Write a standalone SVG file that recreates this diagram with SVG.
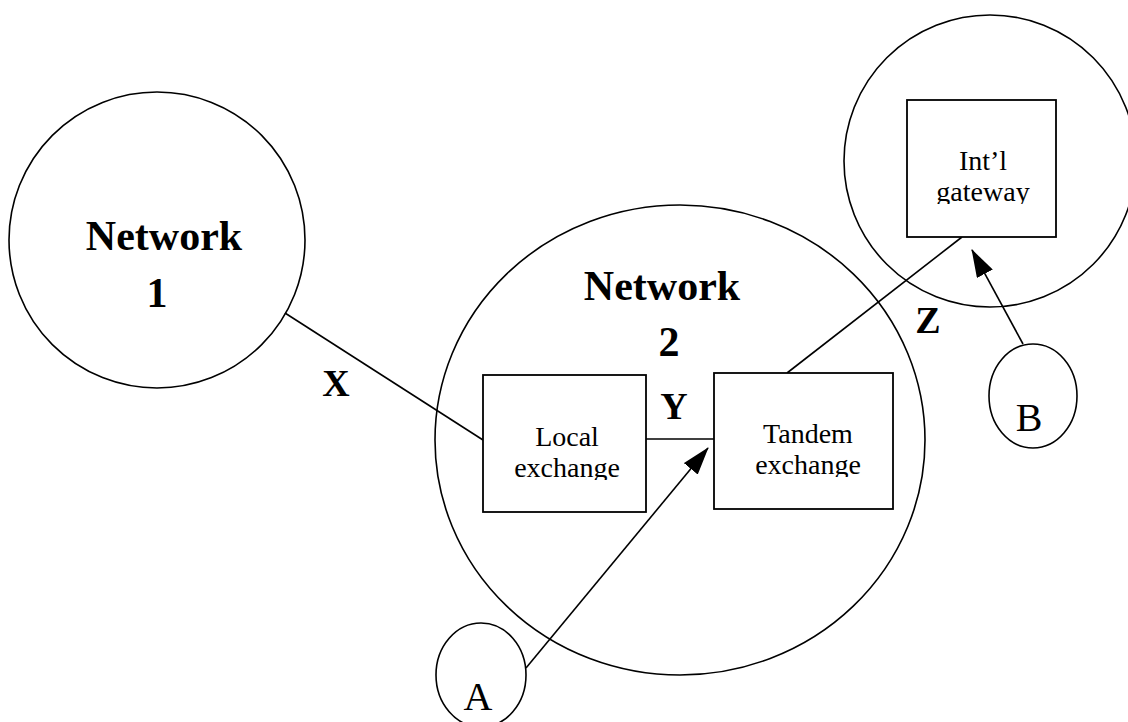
<svg xmlns="http://www.w3.org/2000/svg" width="1128" height="722" viewBox="0 0 1128 722">
<style>
.sh{fill:none;stroke:#000;stroke-width:1.6}
.bx{fill:#fff;stroke:#000;stroke-width:1.8}
.ln{fill:none;stroke:#000;stroke-width:1.6}
.big{font-family:"Liberation Serif","Times New Roman",serif;font-weight:bold;font-size:42px;fill:#000;text-anchor:middle}
.lbl{font-family:"Liberation Serif","Times New Roman",serif;font-weight:bold;font-size:38px;fill:#000;text-anchor:middle}
.sm{font-family:"Liberation Serif","Times New Roman",serif;font-size:28px;fill:#000;text-anchor:middle}
.let{font-family:"Liberation Serif","Times New Roman",serif;font-size:40px;fill:#000;text-anchor:middle}
</style>
<defs>
<marker id="ah" markerWidth="28" markerHeight="18" refX="27" refY="9" orient="auto" markerUnits="userSpaceOnUse">
<path d="M0,0 L28,9 L0,18 Z" fill="#000"/>
</marker>
<clipPath id="cLocal"><rect x="483" y="375" width="163" height="105"/></clipPath>
<clipPath id="cTandem"><rect x="714" y="373" width="179" height="104"/></clipPath>
<clipPath id="cGate"><rect x="907" y="100" width="149" height="104"/></clipPath>
</defs>
<rect width="1128" height="722" fill="#fff"/>
<g id="network1">
<circle class="sh" cx="157" cy="240" r="148"/>
<text class="big" x="164" y="250">Network</text>
<text class="big" x="157" y="307">1</text>
</g>
<g id="network2">
<ellipse class="sh" cx="680" cy="440" rx="245" ry="235"/>
<text class="big" x="662" y="300">Network</text>
<text class="big" x="669" y="356">2</text>
</g>
<g id="gatewaynet">
<ellipse class="sh" cx="990" cy="161" rx="146" ry="146"/>
</g>
<g id="connectors">
<line class="ln" x1="285" y1="313" x2="483" y2="440"/>
<line class="ln" x1="646" y1="439" x2="714" y2="439"/>
<line class="ln" x1="787" y1="373" x2="962" y2="237"/>
<line class="ln" x1="526" y1="668" x2="708" y2="448" marker-end="url(#ah)"/>
<line class="ln" x1="1023" y1="344" x2="972" y2="250" marker-end="url(#ah)"/>
<text class="lbl" x="336" y="396">X</text>
<text class="lbl" x="674" y="419">Y</text>
<text class="lbl" x="928" y="333">Z</text>
</g>
<g id="local">
<rect class="bx" x="483" y="375" width="163" height="137"/>
<g clip-path="url(#cLocal)">
<text class="sm" x="567" y="446">Local</text>
<text class="sm" x="567" y="477">exchange</text>
</g>
</g>
<g id="tandem">
<rect class="bx" x="714" y="373" width="179" height="136"/>
<g clip-path="url(#cTandem)">
<text class="sm" x="808" y="443">Tandem</text>
<text class="sm" x="808" y="474">exchange</text>
</g>
</g>
<g id="gateway">
<rect class="bx" x="907" y="100" width="149" height="137"/>
<g clip-path="url(#cGate)">
<text class="sm" x="983" y="170">Int’l</text>
<text class="sm" x="983" y="201">gateway</text>
</g>
</g>
<g id="A">
<ellipse class="sh" cx="481" cy="675" rx="45" ry="52"/>
<text class="let" x="478" y="710">A</text>
</g>
<g id="B">
<ellipse class="sh" cx="1033" cy="396" rx="44" ry="52"/>
<text class="let" x="1029" y="431">B</text>
</g>
</svg>
